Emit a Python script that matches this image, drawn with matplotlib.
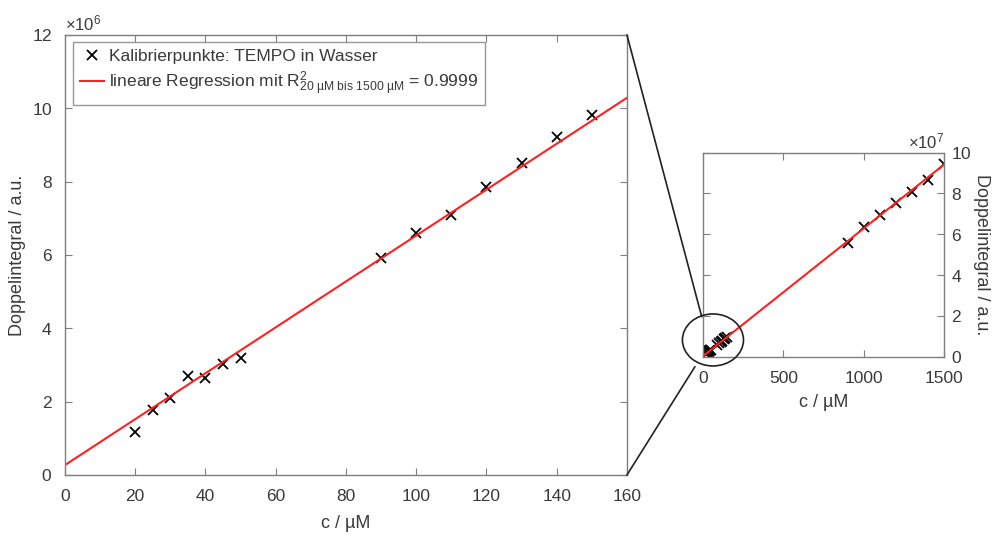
import matplotlib
matplotlib.use("Agg")
import matplotlib.pyplot as plt
import numpy as np
from matplotlib.patches import Ellipse, ConnectionPatch
from matplotlib.ticker import ScalarFormatter

plt.rcParams['font.family'] = ['Liberation Sans', 'DejaVu Sans']
plt.rcParams['mathtext.fontset'] = 'custom'
plt.rcParams['mathtext.rm'] = 'Liberation Sans'
plt.rcParams['mathtext.it'] = 'Liberation Sans:italic'

# Kalibrierpunkte (c in uM, Doppelintegral in a.u.)
c_low = [20, 25, 30, 35, 40, 45, 50, 90, 100, 110, 120, 130, 140, 150]
di_low = [1.17e6, 1.77e6, 2.10e6, 2.70e6, 2.65e6, 3.03e6, 3.19e6,
          5.92e6, 6.60e6, 7.09e6, 7.85e6, 8.51e6, 9.22e6, 9.82e6]
c_high = [900, 1000, 1100, 1200, 1300, 1400, 1500]
di_high = [5.56e7, 6.34e7, 6.95e7, 7.55e7, 8.09e7, 8.65e7, 9.45e7]

# lineare Regression
slope = 0.0626e6
intercept = 0.27e6

gray = '#7f7f7f'
txt = '#3a3a3a'

fig = plt.figure(figsize=(9.98, 5.37), dpi=100)
ax = fig.add_axes([0.0651, 0.1155, 0.5631, 0.8194])
ins = fig.add_axes([0.7044, 0.3358, 0.2415, 0.3799])

xl = np.array([0, 160])
ax.plot(c_low, di_low, 'x', color='black', ms=6.5, mew=1.3,
        label='Kalibrierpunkte: TEMPO in Wasser')
ax.plot(xl, slope * xl + intercept, color='#ff2020', lw=1.5,
        label=r'lineare Regression mit R$^{2}_{\mathrm{20\ µM\ bis\ 1500\ µM}}$ = 0.9999')
ax.set_xlim(0, 160)
ax.set_ylim(0, 12e6)
ax.set_xticks(np.arange(0, 161, 20))
ax.set_yticks(np.arange(0, 12.1e6, 2e6))
ax.set_xlabel('c / µM', fontsize=13, color=txt, labelpad=8)
ax.set_ylabel('Doppelintegral / a.u.', fontsize=13, color=txt)
ax.yaxis.set_label_coords(-0.07, 0.5)
fmt = ScalarFormatter(useMathText=True)
fmt.set_powerlimits((6, 6))
ax.yaxis.set_major_formatter(fmt)
ax.yaxis.get_offset_text().set_fontsize(12)
ax.yaxis.get_offset_text().set_color(txt)
leg = ax.legend(loc='upper left', fontsize=12.5, frameon=True, fancybox=False,
                edgecolor=gray, handlelength=1.4, handletextpad=0.3,
                borderpad=0.4, labelspacing=0.3, borderaxespad=0,
                bbox_to_anchor=(0.014, 0.984))
for t in leg.get_texts():
    t.set_color(txt)

xi = np.array([0, 1500])
ins.plot(c_low + c_high, di_low + di_high, 'x', color='black', ms=6.5, mew=1.3)
ins.plot(xi, slope * xi + intercept, color='#ff2020', lw=1.5)
ins.set_xlim(0, 1500)
ins.set_ylim(0, 10e7)
ins.set_xticks([0, 500, 1000, 1500])
ins.set_yticks(np.arange(0, 10.1e7, 2e7))
ins.yaxis.tick_right()
ins.yaxis.set_label_position('right')
ins.set_xlabel('c / µM', fontsize=13, color=txt, labelpad=6)
ins.set_ylabel('Doppelintegral / a.u.', fontsize=13, color=txt, rotation=270)
ins.yaxis.set_label_coords(1.19, 0.5)
fmt2 = ScalarFormatter(useMathText=True)
fmt2.set_powerlimits((7, 7))
ins.yaxis.set_major_formatter(fmt2)
ins.yaxis.get_offset_text().set_fontsize(12)
ins.yaxis.get_offset_text().set_color(txt)

for a in (ax, ins):
    for s in a.spines.values():
        s.set_color(gray)
        s.set_linewidth(1.0)
    a.tick_params(direction='in', top=True, bottom=True, left=True, right=True,
                  color=gray, labelcolor=txt, labelsize=12.5, length=5)
    a.tick_params(axis='x', pad=10)
ax.tick_params(axis='y', pad=9)
ins.tick_params(axis='y', pad=5)

# Zoom-Markierung
ell = Ellipse((62, 8.2e6), 380, 2.55e7, fill=False, edgecolor='#222222',
              lw=1.2, clip_on=False, zorder=5)
ins.add_patch(ell)
for corner, end in [((1, 1), (-8, 1.96e7)), ((1, 0), (-50, -4.9e6))]:
    cp = ConnectionPatch(xyA=corner, coordsA=ax.transAxes,
                         xyB=end, coordsB=ins.transData,
                         color='#222222', lw=1.2)
    fig.add_artist(cp)

fig.savefig('out.png', dpi=100)
